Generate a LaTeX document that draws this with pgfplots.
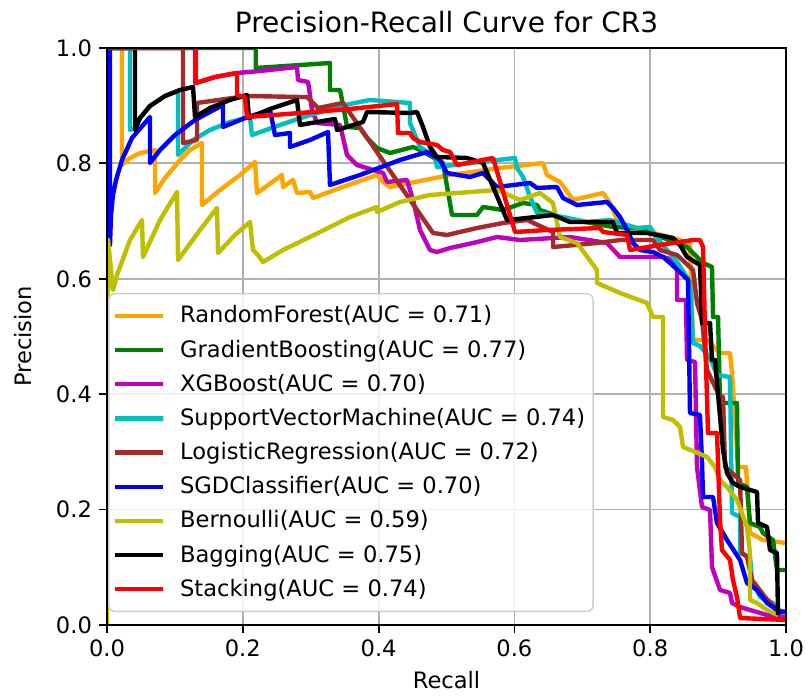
\documentclass[border=0pt]{standalone}
\usepackage{pgfplots}
\pgfplotsset{compat=1.18}
\usepackage{fontspec}
\setmainfont{DejaVu Sans}
\definecolor{cRF}{RGB}{255,165,0}
\definecolor{cGB}{RGB}{0,128,0}
\definecolor{cXG}{RGB}{191,0,191}
\definecolor{cSV}{RGB}{0,191,191}
\definecolor{cLR}{RGB}{165,42,42}
\definecolor{cSG}{RGB}{0,0,255}
\definecolor{cBN}{RGB}{191,191,0}
\definecolor{cBG}{RGB}{0,0,0}
\definecolor{cST}{RGB}{255,0,0}
\definecolor{gridc}{RGB}{176,176,176}
\definecolor{legc}{RGB}{204,204,204}
\pgfplotsset{
  layers/mylayers/.define layer set={axis background,axis grid,main,axis ticks,axis lines,axis tick labels,axis descriptions,axis foreground}{
    grid style={/pgfplots/on layer=axis grid},
    tick style={/pgfplots/on layer=axis ticks},
    axis line style={/pgfplots/on layer=axis lines},
    label style={/pgfplots/on layer=axis descriptions},
    legend style={/pgfplots/on layer=axis descriptions},
    title style={/pgfplots/on layer=axis descriptions},
    ticklabel style={/pgfplots/on layer=axis tick labels},
  },
}
\newcommand{\fs}{\fontsize{11.3}{13.5}\selectfont}
\begin{document}
\begin{tikzpicture}
\begin{axis}[
  set layers=mylayers,
  at={(0pt,0pt)}, anchor=south west,
  scale only axis, width=339.5pt, height=288.5pt,
  xmin=0, xmax=1, ymin=0, ymax=1,
  xtick={0,0.2,0.4,0.6,0.8,1}, ytick={0,0.2,0.4,0.6,0.8,1},
  xtick pos=bottom, ytick pos=left,
  tick align=outside, major tick length=4pt,
  every tick/.style={black, line width=0.9pt},
  grid=major, grid style={color=gridc, line width=0.9pt},
  axis line style={line width=0.9pt},
  tick label style={font=\fs},
  /pgf/number format/fixed, /pgf/number format/fixed zerofill, /pgf/number format/precision=1, /pgf/number format/assume math mode=true,
  title={Precision-Recall Curve for CR3},
  every axis title/.style={at={(axis description cs:0.5,1.026)}, anchor=base, font=\fontsize{14}{16}\selectfont},
  xlabel={Recall}, xlabel style={at={(axis description cs:0.5,-0.1109)}, anchor=base, font=\fs},
  ylabel={Precision}, ylabel style={at={(axis description cs:-0.1105,0.5)}, anchor=base, font=\fs},
  legend cell align=left,
  legend image code/.code={\draw[#1] (0pt,0pt) -- (24pt,0pt);},
  legend style={at={(0.0015,0.0225)}, anchor=south west, draw=legc, line width=0.7pt, rounded corners=3pt, fill=white, fill opacity=0.8, text opacity=1, draw opacity=1, inner xsep=2pt, inner ysep=4pt, row sep=3pt, column sep=5.5pt, font=\fs},
]
\addplot[color=cRF, line width=2.2pt, line join=round] coordinates {
(0,1) (0.0221,1) (0.0221,0.7972) (0.0339,0.8094) (0.0486,0.8180) (0.0707,0.8232) (0.0707,0.7487) (0.0854,0.7747) (0.1075,0.8059) (0.1222,0.8232) (0.1399,0.8354) (0.1399,0.7279) (0.1664,0.7539) (0.1959,0.7799) (0.2180,0.8024) (0.2209,0.7487) (0.2577,0.7799) (0.2592,0.7591) (0.2739,0.7712) (0.2798,0.7487) (0.2990,0.7504) (0.3034,0.7400) (0.3432,0.7574) (0.3976,0.7799) (0.4065,0.7678) (0.4168,0.7591) (0.5052,0.7799) (0.5788,0.7920) (0.6421,0.8007) (0.6480,0.7799) (0.6672,0.7678) (0.6863,0.7366) (0.7305,0.7487) (0.7408,0.7314) (0.7555,0.6898) (0.7997,0.6811) (0.8439,0.6672) (0.8586,0.6586) (0.8631,0.4939) (0.8837,0.4939) (0.9028,0.4714) (0.9175,0.4714) (0.9205,0.4367) (0.9293,0.2738) (0.9411,0.2738) (0.9470,0.1594) (0.9661,0.1473) (1.0,0.1421)
};
\addlegendentry{RandomForest(AUC = 0.71)}
\addplot[color=cGB, line width=2.2pt, line join=round] coordinates {
(0,1) (0.2190,1) (0.2190,0.9653) (0.3284,0.9740) (0.3284,0.9272) (0.3432,0.9272) (0.3476,0.9012) (0.3535,0.8631) (0.3726,0.8614) (0.3829,0.8440) (0.3976,0.8267) (0.4168,0.8180) (0.4507,0.8284) (0.4610,0.8232) (0.4948,0.8007) (0.5081,0.7106) (0.5449,0.7106) (0.5538,0.7244) (0.5832,0.7192) (0.6127,0.7314) (0.6333,0.7279) (0.6377,0.7192) (0.6716,0.7054) (0.7452,0.6898) (0.7806,0.6880) (0.7968,0.6811) (0.8542,0.6551) (0.8778,0.6274) (0.8910,0.6205) (0.8925,0.5338) (0.8999,0.5338) (0.9028,0.3847) (0.9278,0.3847) (0.9293,0.2461) (0.9426,0.2392) (0.9470,0.1768) (0.9617,0.1698) (0.9661,0.1594) (0.9808,0.1473) (0.9867,0.0953) (1.0,0.0953)
};
\addlegendentry{GradientBoosting(AUC = 0.77)}
\addplot[color=cXG, line width=2.2pt, line join=round] coordinates {
(0,1) (0.1296,1) (0.1296,0.9393) (0.1591,0.9497) (0.1915,0.9567) (0.2253,0.9601) (0.2798,0.9671) (0.2813,0.9445) (0.2960,0.9411) (0.2975,0.9307) (0.3019,0.8925) (0.3093,0.8700) (0.3432,0.8666) (0.3535,0.8146) (0.3682,0.7972) (0.4065,0.7834) (0.4124,0.7678) (0.4418,0.7712) (0.4507,0.7366) (0.4610,0.6846) (0.4757,0.6499) (0.4860,0.6464) (0.5052,0.6534) (0.5390,0.6620) (0.5744,0.6724) (0.6082,0.6672) (0.6568,0.6707) (0.6819,0.6724) (0.7364,0.6620) (0.7555,0.6378) (0.8189,0.6378) (0.8336,0.6326) (0.8395,0.6205) (0.8395,0.5633) (0.8527,0.5633) (0.8542,0.4593) (0.8660,0.4558) (0.8689,0.2738) (0.8763,0.2045) (0.8881,0.1993) (0.8910,0.1005) (0.9028,0.0607) (0.9175,0.0555) (0.9205,0.0381) (0.9323,0.0312) (0.9720,0.0173) (1.0,0.0139)
};
\addlegendentry{XGBoost(AUC = 0.70)}
\addplot[color=cSV, line width=2.2pt, line join=round] coordinates {
(0,1) (0.0339,1) (0.0339,0.8579) (0.0412,0.8614) (0.0486,0.8787) (0.0633,0.8995) (0.0854,0.9168) (0.1046,0.9255) (0.1046,0.8146) (0.1119,0.8232) (0.1267,0.8406) (0.1517,0.8579) (0.1811,0.8718) (0.2106,0.8804) (0.2135,0.8492) (0.2548,0.8666) (0.2990,0.8839) (0.3505,0.9012) (0.3873,0.9099) (0.4462,0.9047) (0.4462,0.8700) (0.4566,0.8406) (0.4610,0.8284) (0.4831,0.8111) (0.4860,0.7938) (0.5493,0.8024) (0.6009,0.8094) (0.6038,0.7920) (0.6127,0.7764) (0.6230,0.7418) (0.6333,0.7140) (0.6716,0.7071) (0.7069,0.6984) (0.7408,0.7019) (0.7806,0.6880) (0.7997,0.6898) (0.8100,0.6707) (0.8395,0.6291) (0.8586,0.5945) (0.8631,0.4887) (0.8733,0.4835) (0.8881,0.4627) (0.8984,0.4333) (0.9175,0.4298) (0.9205,0.1941) (0.9323,0.1872) (0.9323,0.1248) (0.9470,0.1179) (0.9499,0.0780) (0.9617,0.0485) (0.9808,0.0381) (0.9867,0.0225) (1.0,0.0225)
};
\addlegendentry{SupportVectorMachine(AUC = 0.74)}
\addplot[color=cLR, line width=2.2pt, line join=round] coordinates {
(0,1) (0.1119,1) (0.1119,0.8354) (0.1325,0.8406) (0.1325,0.9047) (0.2062,0.9168) (0.2842,0.9151) (0.2946,0.9151) (0.3108,0.8960) (0.3476,0.9047) (0.4801,0.6794) (0.5007,0.6759) (0.5449,0.6880) (0.5832,0.6967) (0.6186,0.7019) (0.6568,0.6811) (0.6568,0.6551) (0.7216,0.6620) (0.7555,0.6672) (0.8041,0.6672) (0.8144,0.6499) (0.8395,0.6412) (0.8631,0.6153) (0.8689,0.5581) (0.8763,0.5286) (0.8837,0.4419) (0.9028,0.3951) (0.9072,0.3951) (0.9102,0.2738) (0.9323,0.2513) (0.9352,0.1248) (0.9426,0.1179) (0.9499,0.0780) (0.9691,0.0485) (0.9867,0.0260) (1.0,0.0225)
};
\addlegendentry{LogisticRegression(AUC = 0.72)}
\addplot[color=cSG, line width=2.2pt, line join=round] coordinates {
(0,1) (0.0044,1) (0.0044,0.6586) (0.0059,0.7106) (0.0088,0.7452) (0.0133,0.7712) (0.0221,0.8059) (0.0368,0.8440) (0.0633,0.8804) (0.0633,0.8007) (0.0781,0.8232) (0.1001,0.8492) (0.1296,0.8752) (0.1708,0.9012) (0.1708,0.8631) (0.2032,0.8787) (0.2401,0.8925) (0.2474,0.8492) (0.2695,0.8527) (0.2695,0.8284) (0.2990,0.8406) (0.3255,0.8544) (0.3284,0.7626) (0.3726,0.7799) (0.4315,0.8059) (0.4713,0.8198) (0.4904,0.8059) (0.5007,0.7834) (0.5346,0.7764) (0.5538,0.7834) (0.5744,0.7591) (0.6230,0.7660) (0.6333,0.7574) (0.6627,0.7591) (0.6716,0.7400) (0.6922,0.7279) (0.7364,0.7331) (0.7452,0.7227) (0.7555,0.7071) (0.7658,0.6846) (0.7747,0.6620) (0.7850,0.6499) (0.8041,0.6464) (0.8189,0.6378) (0.8292,0.6274) (0.8483,0.6066) (0.8557,0.5979) (0.8586,0.3674) (0.8733,0.3640) (0.8763,0.2825) (0.8778,0.2218) (0.8925,0.2218) (0.8984,0.1768) (0.9131,0.1473) (0.9323,0.1127) (0.9426,0.0728) (0.9573,0.0607) (0.9720,0.0381) (0.9912,0.0225) (1.0,0.0225)
};
\addlegendentry{SGDClassifier(AUC = 0.70)}
\addplot[color=cBN, line width=2.2pt, line join=round] coordinates {
(0,0) (0.0015,0.6672) (0.0088,0.5806) (0.0147,0.6066) (0.0339,0.6672) (0.0515,0.7019) (0.0530,0.6378) (0.0781,0.7019) (0.1031,0.7504) (0.1046,0.6326) (0.1370,0.6846) (0.1620,0.7227) (0.1635,0.6447) (0.1885,0.6759) (0.2106,0.6984) (0.2150,0.6499) (0.2224,0.6412) (0.2297,0.6291) (0.2592,0.6499) (0.3137,0.6811) (0.3579,0.7071) (0.3976,0.7244) (0.3976,0.7158) (0.4315,0.7331) (0.4757,0.7452) (0.5155,0.7487) (0.5744,0.7539) (0.6082,0.7366) (0.6377,0.7487) (0.6568,0.7314) (0.6672,0.6724) (0.6922,0.6620) (0.7216,0.6153) (0.7216,0.5927) (0.7555,0.5754) (0.7953,0.5581) (0.8041,0.5338) (0.8189,0.5338) (0.8189,0.3605) (0.8336,0.3553) (0.8439,0.3432) (0.8483,0.3085) (0.8704,0.2981) (0.8837,0.2912) (0.8954,0.2738) (0.9028,0.2513) (0.9131,0.2392) (0.9278,0.2166) (0.9426,0.1698) (0.9470,0.1248) (0.9470,0.0433) (0.9573,0.0381) (0.9720,0.0260) (0.9882,0.0173)
};
\addlegendentry{Bernoulli(AUC = 0.59)}
\addplot[color=cBG, line width=2.2pt, line join=round] coordinates {
(0,1) (0.0412,1) (0.0412,0.8579) (0.0486,0.8787) (0.0633,0.8995) (0.0854,0.9168) (0.1075,0.9272) (0.1267,0.9324) (0.1296,0.8804) (0.1517,0.8960) (0.1811,0.9099) (0.2062,0.9185) (0.2091,0.8787) (0.2401,0.8943) (0.2798,0.9099) (0.2842,0.8666) (0.3358,0.8770) (0.3387,0.8579) (0.3770,0.8718) (0.3829,0.8891) (0.4462,0.8873) (0.4566,0.8891) (0.4654,0.8631) (0.4757,0.8284) (0.4860,0.8111) (0.5302,0.8094) (0.5538,0.8007) (0.5891,0.7019) (0.6186,0.7054) (0.6568,0.7106) (0.6819,0.6984) (0.7452,0.6984) (0.7511,0.6794) (0.7953,0.6794) (0.8336,0.6707) (0.8439,0.6586) (0.8542,0.6378) (0.8733,0.6239) (0.8763,0.5234) (0.8881,0.5234) (0.8910,0.4593) (0.8954,0.4593) (0.9072,0.3033) (0.9131,0.2634) (0.9219,0.2461) (0.9323,0.2392) (0.9573,0.2305) (0.9588,0.1768) (0.9720,0.1698) (0.9764,0.1300) (0.9867,0.1248) (0.9882,0.0173)
};
\addlegendentry{Bagging(AUC = 0.75)}
\addplot[color=cST, line width=2.2pt, line join=round] coordinates {
(0,1) (0.1311,1) (0.1311,0.9393) (0.1591,0.9497) (0.1915,0.9567) (0.1915,0.9185) (0.2032,0.9151) (0.2062,0.8804) (0.2842,0.8873) (0.3579,0.8943) (0.4271,0.9029) (0.4286,0.8527) (0.4462,0.8527) (0.4507,0.8440) (0.4610,0.8371) (0.4860,0.8319) (0.4948,0.8232) (0.5052,0.8198) (0.5155,0.7972) (0.5685,0.8094) (0.6009,0.6811) (0.6480,0.6846) (0.7261,0.6880) (0.7305,0.6811) (0.7658,0.6759) (0.7703,0.6499) (0.8144,0.6586) (0.8631,0.6672) (0.8733,0.6672) (0.8778,0.6551) (0.8807,0.5113) (0.8851,0.3328) (0.8984,0.3328) (0.9028,0.1820) (0.9057,0.1300) (0.9175,0.1127) (0.9219,0.0780) (0.9278,0.0485) (0.9323,0.0121) (1.0,0.0087)
};
\addlegendentry{Stacking(AUC = 0.74)}
\end{axis}
\pgfresetboundingbox
\path[use as bounding box] (-53.5pt,-35pt) rectangle (349.5pt,312.5pt);
\end{tikzpicture}
\end{document}
